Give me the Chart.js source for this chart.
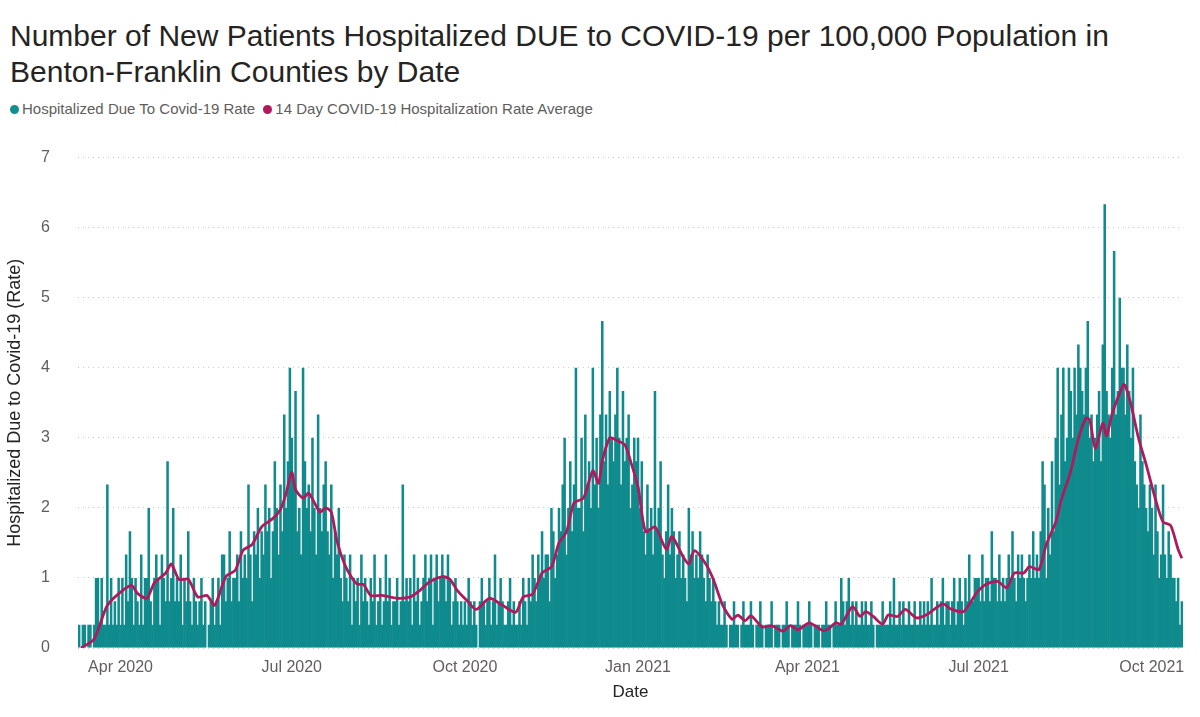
<!DOCTYPE html>
<html><head><meta charset="utf-8">
<script src="https://cdn.jsdelivr.net/npm/chart.js@4"></script>
<style>
body{margin:0;width:1200px;height:717px;background:#fff;font-family:"Liberation Sans",Arial,sans-serif;overflow:hidden;position:relative}
#title{position:absolute;left:10px;top:18px;font-size:30px;line-height:36px;color:#252423}
#legend{position:absolute;left:10px;top:100px;font-size:15px;color:#605e5c}
.dot{display:inline-block;width:9px;height:9px;border-radius:50%;margin-right:3px;vertical-align:0px}
#wrap{position:absolute;left:0;top:120px;width:1200px;height:597px}
</style></head><body>
<div id="title">Number of New Patients Hospitalized DUE to COVID-19 per 100,000 Population in<br>Benton-Franklin Counties by Date</div>
<div id="legend"><span class="dot" style="background:#118f8f"></span>Hospitalized Due To Covid-19 Rate <span class="dot" style="background:#b01a5c;margin-left:4px"></span>14 Day COVID-19 Hospitalization Rate Average</div>
<div id="wrap"><canvas id="c" width="1200" height="597"></canvas></div>
<script>
// Daily new hospitalized patient counts by month (1 patient ≈ 0.333 per 100,000)
const RATE_PER_PATIENT = 1/3;
const m2020_03 = [1,0,1,1,0,1,1,0,1,3,3,1,3,1,1,7,1,3,1,2,1,3]; // starts Mar 10
const m2020_04 = [1,3,1,4,2,5,3,1,3,2,1,4,1,3,3,6,2,1,3,4,3,1,4,3,2,8,2,3,6,2];
const m2020_05 = [3,2,4,1,3,2,5,2,1,3,2,1,2,3,1,2,0,1,2,3,1,2,3,1,4,4,2,3,5,2,3];
const m2020_06 = [3,4,2,5,3,4,3,7,4,2,5,4,6,3,5,4,7,5,6,3,5,8,6,4,7,5,10,6,8,12];
const m2020_07 = [9,7,11,5,6,4,12,8,6,7,5,9,6,4,10,6,5,7,8,5,4,7,3,5,4,6,3,2,4,3,2];
const m2020_08 = [4,1,3,2,3,1,4,2,3,2,1,3,2,4,1,2,3,1,2,4,2,3,1,2,2,3,1,2,7,2,3];
const m2020_09 = [2,3,1,4,2,3,1,2,3,4,2,3,4,1,3,4,2,3,4,3,2,4,3,1,2,3,2,1,2,1];
const m2020_10 = [2,1,3,2,1,2,1,0,2,3,2,1,2,3,1,2,4,1,2,3,2,1,1,2,3,1,2,1,1,2,1];
const m2020_11 = [3,2,1,3,2,4,3,2,4,3,5,3,4,4,2,6,5,3,4,6,5,7,9,4,6,8,5,7,12,6];
const m2020_12 = [6,9,5,10,7,8,6,12,7,9,6,10,14,8,10,7,11,9,8,10,12,9,7,11,8,9,10,6,7,9,8];
const m2021_01 = [9,6,8,5,4,7,5,6,4,11,5,6,8,4,3,5,7,4,6,5,3,4,5,3,4,3,2,6,4,5,3];
const m2021_02 = [4,3,5,4,3,2,4,3,2,3,2,1,2,1,1,2,1,0,1,1,2,1,1,0,1,2,1,1];
const m2021_03 = [1,2,1,0,1,1,2,1,0,1,1,1,2,0,1,1,1,0,1,1,2,1,0,1,1,1,2,1,0,1,1];
const m2021_04 = [1,2,1,0,1,1,1,0,1,1,2,1,1,0,1,2,1,1,3,2,1,2,3,1,2,1,2,1,1,2];
const m2021_05 = [1,2,1,1,2,1,0,1,1,1,2,1,1,1,2,1,3,1,1,2,1,2,1,1,2,1,1,2,1,1,2];
const m2021_06 = [1,2,1,2,1,3,1,1,2,1,2,3,1,2,2,1,2,3,1,2,3,2,1,3,2,4,2,2,3,3];
const m2021_07 = [3,2,4,2,3,3,2,5,3,3,2,4,2,3,2,3,4,3,5,3,2,4,3,4,3,2,3,4,3,5,3];
const m2021_08 = [4,3,5,8,7,3,6,4,8,5,9,12,7,10,12,8,9,12,11,9,12,10,13,12,11,10,12,14,9,10,8];
const m2021_09 = [9,10,11,8,13,19,11,10,9,12,17,10,11,15,12,12,10,13,11,9,12,8,7,6,10,8,7,6,5,7];
const m2021_10 = [6,4,7,5,3,4,7,4,3,5,4,3,3,2,3,1,2];
const monthStarts = ["2020-03-10","2020-04-01","2020-05-01","2020-06-01","2020-07-01","2020-08-01","2020-09-01","2020-10-01","2020-11-01","2020-12-01","2021-01-01","2021-02-01","2021-03-01","2021-04-01","2021-05-01","2021-06-01","2021-07-01","2021-08-01","2021-09-01","2021-10-01"];
const monthCounts = [m2020_03,m2020_04,m2020_05,m2020_06,m2020_07,m2020_08,m2020_09,m2020_10,m2020_11,m2020_12,m2021_01,m2021_02,m2021_03,m2021_04,m2021_05,m2021_06,m2021_07,m2021_08,m2021_09,m2021_10];

const avgDates = ["2020-03-11","2020-03-18","2020-03-25","2020-04-02","2020-04-07","2020-04-10","2020-04-15","2020-04-19","2020-04-25","2020-04-28","2020-05-02","2020-05-07","2020-05-12","2020-05-17","2020-05-21","2020-05-27","2020-06-01","2020-06-05","2020-06-10","2020-06-15","2020-06-21","2020-06-25","2020-06-28","2020-07-01","2020-07-03","2020-07-07","2020-07-10","2020-07-16","2020-07-19","2020-07-22","2020-07-25","2020-07-29","2020-08-02","2020-08-05","2020-08-08","2020-08-12","2020-08-18","2020-08-26","2020-09-02","2020-09-07","2020-09-12","2020-09-19","2020-09-23","2020-09-27","2020-10-02","2020-10-07","2020-10-14","2020-10-21","2020-10-28","2020-11-01","2020-11-06","2020-11-11","2020-11-16","2020-11-20","2020-11-24","2020-11-28","2020-12-03","2020-12-08","2020-12-11","2020-12-13","2020-12-17","2020-12-21","2020-12-25","2020-12-28","2021-01-01","2021-01-05","2021-01-10","2021-01-16","2021-01-19","2021-01-25","2021-01-28","2021-01-31","2021-02-06","2021-02-10","2021-02-15","2021-02-20","2021-02-23","2021-02-27","2021-03-02","2021-03-08","2021-03-13","2021-03-19","2021-03-23","2021-03-27","2021-04-02","2021-04-09","2021-04-12","2021-04-16","2021-04-19","2021-04-25","2021-04-29","2021-05-02","2021-05-06","2021-05-11","2021-05-14","2021-05-19","2021-05-23","2021-05-29","2021-06-03","2021-06-12","2021-06-16","2021-06-23","2021-06-30","2021-07-05","2021-07-11","2021-07-16","2021-07-20","2021-07-25","2021-07-28","2021-08-02","2021-08-06","2021-08-11","2021-08-14","2021-08-19","2021-08-23","2021-08-27","2021-08-29","2021-09-01","2021-09-05","2021-09-07","2021-09-10","2021-09-16","2021-09-17","2021-09-20","2021-09-24","2021-09-28","2021-10-03","2021-10-07","2021-10-11","2021-10-15","2021-10-17"];
const avgValues = [0.0,0.13,0.61,0.82,0.89,0.78,0.71,0.93,1.07,1.2,0.98,0.98,0.73,0.75,0.61,1.02,1.11,1.39,1.48,1.73,1.85,1.98,2.21,2.51,2.26,2.14,2.21,1.94,2.0,1.94,1.53,1.2,1.0,0.91,0.91,0.75,0.75,0.71,0.73,0.82,0.94,1.02,0.98,0.82,0.68,0.55,0.71,0.61,0.51,0.73,0.77,1.07,1.16,1.5,1.66,2.07,2.14,2.53,2.35,2.67,3.0,2.96,2.9,2.67,2.3,1.66,1.73,1.41,1.59,1.3,1.2,1.39,1.2,0.98,0.61,0.41,0.47,0.39,0.46,0.3,0.32,0.24,0.32,0.26,0.36,0.25,0.27,0.36,0.34,0.59,0.45,0.52,0.45,0.34,0.47,0.45,0.55,0.43,0.47,0.63,0.56,0.52,0.79,0.91,0.95,0.86,1.07,1.07,1.16,1.12,1.48,1.8,2.12,2.53,2.99,3.28,3.26,2.85,3.21,3.03,3.35,3.76,3.74,3.47,2.99,2.62,2.12,1.8,1.75,1.41,1.28];

const tickDates = ["2020-04-01","2020-07-01","2020-10-01","2021-01-01","2021-04-01","2021-07-01","2021-10-01"];
const tickLabels = ["Apr 2020","Jul 2020","Oct 2020","Jan 2021","Apr 2021","Jul 2021","Oct 2021"];
const yTicks = [0,1,2,3,4,5,6,7];

const T0 = Date.parse("2020-03-10T00:00:00Z");
const dayIdx = s => Math.round((Date.parse(s+"T00:00:00Z") - T0)/86400000);

const bars = [];
monthCounts.forEach((arr,i)=>{ const s = dayIdx(monthStarts[i]); arr.forEach((c,j)=>bars.push({x:s+j, y:c*RATE_PER_PATIENT})); });
const lastX = bars[bars.length-1].x;
const line = avgDates.map((d,i)=>({x:dayIdx(d), y:avgValues[i]}));
const tickPos = tickDates.map(dayIdx);

new Chart(document.getElementById('c'), {
  data:{datasets:[
    {type:'line', label:'14 Day COVID-19 Hospitalization Rate Average', data:line, borderColor:'#b01a5c', borderWidth:2.8, pointRadius:0, tension:0.25, order:0},
    {type:'bar', label:'Hospitalized Due To Covid-19 Rate', data:bars, backgroundColor:'#0f8b8d', borderWidth:0, barPercentage:1.35, categoryPercentage:1, order:1}
  ]},
  options:{
    responsive:false, animation:false,
    layout:{padding:{left:0,right:17,top:4,bottom:14}},
    plugins:{legend:{display:false}, tooltip:{enabled:false}},
    scales:{
      x:{type:'linear', min:-0.6, max:lastX+0.6, offset:false,
        grid:{display:false}, border:{display:false},
        afterBuildTicks:s=>{ s.ticks = tickPos.map(v=>({value:v})); },
        afterFit:s=>{ s.height = 55; },
        ticks:{autoSkip:false, maxRotation:0, color:'#605e5c', font:{family:'Liberation Sans', size:16}, padding:2,
          callback:(v)=>{ const k=tickPos.indexOf(v); return k>=0?tickLabels[k]:''; }},
        title:{display:true, text:'Date', color:'#252423', font:{family:'Liberation Sans', size:17}, padding:{top:0,bottom:0}}
      },
      y:{min:0, max:7,
        afterBuildTicks:s=>{ s.ticks = yTicks.map(v=>({value:v})); },
        afterFit:s=>{ s.width = 78; },
        grid:{color:'#c8c8c8', lineWidth:1, drawTicks:false},
        border:{display:false, dash:[1,4]},
        ticks:{color:'#605e5c', font:{family:'Liberation Sans', size:16}, padding:28},
        title:{display:true, text:'Hospitalized Due to Covid-19 (Rate)', color:'#252423', font:{family:'Liberation Sans', size:18}, padding:{bottom:0}}
      }
    }
  }
});
</script>
</body></html>
